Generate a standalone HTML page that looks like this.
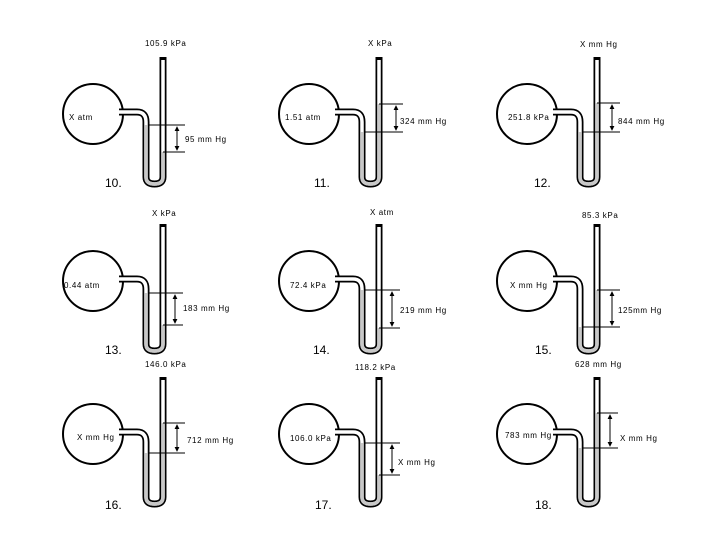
<!DOCTYPE html>
<html><head><style>
html,body{margin:0;padding:0;background:#fff;}
svg{display:block;}
text{font-family:"Liberation Sans",sans-serif;font-size:8px;fill:#000;letter-spacing:0.6px;}
.n{font-size:12px;letter-spacing:0;}
</style></head><body>
<svg width="720" height="540" viewBox="0 0 720 540" xmlns="http://www.w3.org/2000/svg">
<defs>
<marker id="a" viewBox="0 0 6 6" refX="5" refY="3" markerWidth="5" markerHeight="5" orient="auto-start-reverse"><path d="M0,0L6,3L0,6z" fill="#000"/></marker>
<g id="m">
<circle cx="93" cy="114" r="30" fill="#fff" stroke="#000" stroke-width="2"/>
<path d="M119,112 L137,112 Q146,112 146,122 L146,177 Q146,184 154.5,184 Q163,184 163,177 L163,57" fill="none" stroke="#000" stroke-width="7"/>
<path d="M116,112 L137,112 Q146,112 146,122 L146,177 Q146,184 154.5,184 Q163,184 163,177 L163,60" fill="none" stroke="#fff" stroke-width="3.5"/>
</g>
</defs>

<g transform="translate(0,0)">
<use href="#m"/>
<path d="M146,125 L146,177 Q146,184 154.5,184 Q163,184 163,177 L163,152" fill="none" stroke="#c8c8c8" stroke-width="3.5"/>
<line x1="148" y1="125" x2="185" y2="125" stroke="#000"/><line x1="163" y1="152" x2="185" y2="152" stroke="#000"/>
<line x1="177" y1="127" x2="177" y2="150" stroke="#000" marker-start="url(#a)" marker-end="url(#a)"/>
</g>
<g transform="translate(216,0)">
<use href="#m"/>
<path d="M146,132 L146,177 Q146,184 154.5,184 Q163,184 163,177 L163,104" fill="none" stroke="#c8c8c8" stroke-width="3.5"/>
<line x1="163" y1="104" x2="187" y2="104" stroke="#000"/><line x1="148" y1="132" x2="187" y2="132" stroke="#000"/>
<line x1="180" y1="106" x2="180" y2="130" stroke="#000" marker-start="url(#a)" marker-end="url(#a)"/>
</g>
<g transform="translate(434,0)">
<use href="#m"/>
<path d="M146,132 L146,177 Q146,184 154.5,184 Q163,184 163,177 L163,103" fill="none" stroke="#c8c8c8" stroke-width="3.5"/>
<line x1="163" y1="103" x2="186" y2="103" stroke="#000"/><line x1="148" y1="132" x2="186" y2="132" stroke="#000"/>
<line x1="178" y1="105" x2="178" y2="130" stroke="#000" marker-start="url(#a)" marker-end="url(#a)"/>
</g>
<g transform="translate(0,167)">
<use href="#m"/>
<path d="M146,126 L146,177 Q146,184 154.5,184 Q163,184 163,177 L163,158" fill="none" stroke="#c8c8c8" stroke-width="3.5"/>
<line x1="148" y1="126" x2="183" y2="126" stroke="#000"/><line x1="163" y1="158" x2="183" y2="158" stroke="#000"/>
<line x1="175" y1="128" x2="175" y2="156" stroke="#000" marker-start="url(#a)" marker-end="url(#a)"/>
</g>
<g transform="translate(216,167)">
<use href="#m"/>
<path d="M146,123 L146,177 Q146,184 154.5,184 Q163,184 163,177 L163,161" fill="none" stroke="#c8c8c8" stroke-width="3.5"/>
<line x1="148" y1="123" x2="184" y2="123" stroke="#000"/><line x1="163" y1="161" x2="184" y2="161" stroke="#000"/>
<line x1="176" y1="125" x2="176" y2="159" stroke="#000" marker-start="url(#a)" marker-end="url(#a)"/>
</g>
<g transform="translate(434,167)">
<use href="#m"/>
<path d="M146,160 L146,177 Q146,184 154.5,184 Q163,184 163,177 L163,123" fill="none" stroke="#c8c8c8" stroke-width="3.5"/>
<line x1="163" y1="123" x2="186" y2="123" stroke="#000"/><line x1="148" y1="160" x2="186" y2="160" stroke="#000"/>
<line x1="178" y1="125" x2="178" y2="158" stroke="#000" marker-start="url(#a)" marker-end="url(#a)"/>
</g>
<g transform="translate(0,320)">
<use href="#m"/>
<path d="M146,133 L146,177 Q146,184 154.5,184 Q163,184 163,177 L163,103" fill="none" stroke="#c8c8c8" stroke-width="3.5"/>
<line x1="163" y1="103" x2="185" y2="103" stroke="#000"/><line x1="148" y1="133" x2="185" y2="133" stroke="#000"/>
<line x1="177" y1="105" x2="177" y2="131" stroke="#000" marker-start="url(#a)" marker-end="url(#a)"/>
</g>
<g transform="translate(216,320)">
<use href="#m"/>
<path d="M146,123 L146,177 Q146,184 154.5,184 Q163,184 163,177 L163,155" fill="none" stroke="#c8c8c8" stroke-width="3.5"/>
<line x1="148" y1="123" x2="184" y2="123" stroke="#000"/><line x1="163" y1="155" x2="184" y2="155" stroke="#000"/>
<line x1="176" y1="125" x2="176" y2="153" stroke="#000" marker-start="url(#a)" marker-end="url(#a)"/>
</g>
<g transform="translate(434,320)">
<use href="#m"/>
<path d="M146,128 L146,177 Q146,184 154.5,184 Q163,184 163,177 L163,93" fill="none" stroke="#c8c8c8" stroke-width="3.5"/>
<line x1="163" y1="93" x2="184" y2="93" stroke="#000"/><line x1="148" y1="128" x2="184" y2="128" stroke="#000"/>
<line x1="176" y1="95" x2="176" y2="126" stroke="#000" marker-start="url(#a)" marker-end="url(#a)"/>
</g>

<text x="145" y="46">105.9 kPa</text>
<text x="69" y="120">X atm</text>
<text x="185" y="142">95 mm Hg</text>
<text class="n" x="105" y="187">10.</text>

<text x="368" y="46">X kPa</text>
<text x="285" y="120">1.51 atm</text>
<text x="400" y="124">324 mm Hg</text>
<text class="n" x="314" y="187">11.</text>

<text x="580" y="47">X mm Hg</text>
<text x="508" y="120">251.8 kPa</text>
<text x="618" y="124">844 mm Hg</text>
<text class="n" x="534" y="187">12.</text>

<text x="152" y="216">X kPa</text>
<text x="64" y="288">0.44 atm</text>
<text x="183" y="311">183 mm Hg</text>
<text class="n" x="105" y="354">13.</text>

<text x="370" y="215">X atm</text>
<text x="290" y="288">72.4 kPa</text>
<text x="400" y="313">219 mm Hg</text>
<text class="n" x="313" y="354">14.</text>

<text x="582" y="218">85.3 kPa</text>
<text x="510" y="288">X mm Hg</text>
<text x="618" y="313">125mm Hg</text>
<text class="n" x="535" y="354">15.</text>

<text x="145" y="367">146.0 kPa</text>
<text x="77" y="440">X mm Hg</text>
<text x="187" y="443">712 mm Hg</text>
<text class="n" x="105" y="509">16.</text>

<text x="355" y="370">118.2 kPa</text>
<text x="290" y="441">106.0 kPa</text>
<text x="398" y="465">X mm Hg</text>
<text class="n" x="315" y="509">17.</text>

<text x="575" y="367">628 mm Hg</text>
<text x="505" y="438">783 mm Hg</text>
<text x="620" y="441">X mm Hg</text>
<text class="n" x="535" y="509">18.</text>
</svg>
</body></html>
